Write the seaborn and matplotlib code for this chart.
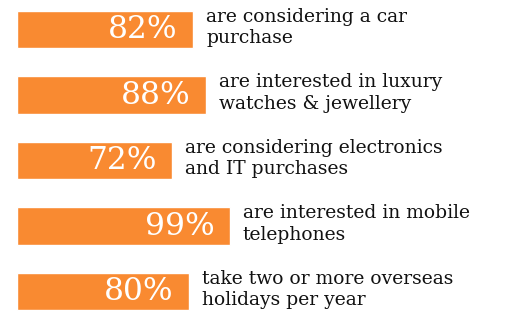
import matplotlib
matplotlib.use("Agg")
import matplotlib.pyplot as plt
import seaborn as sns
import pandas as pd

# chart data
labels = ["82%", "88%", "72%", "99%", "80%"]
values = [82, 88, 72, 99, 80]
descriptions = [
    "are considering a car\npurchase",
    "are interested in luxury\nwatches & jewellery",
    "are considering electronics\nand IT purchases",
    "are interested in mobile\ntelephones",
    "take two or more overseas\nholidays per year",
]

ORANGE = "#f98a31"

df = pd.DataFrame({"label": labels, "value": values, "desc": descriptions})

sns.set_theme(style="white")
plt.rcParams["font.family"] = ["DejaVu Serif", "DejaVu Sans"]

fig = plt.figure(figsize=(5.09, 3.14), dpi=100)
ax = fig.add_axes([0, 0, 1, 1])

sns.barplot(data=df, y="label", x="value", orient="h", color=ORANGE,
            saturation=1, width=0.57, ax=ax)

for i, row in df.iterrows():
    # white percentage inside bar end
    ax.annotate(row["label"], xy=(row["value"], i), xytext=(-11, 0),
                textcoords="offset points", ha="right", va="center",
                color="white", fontsize=22.5)
    # description to the right of the bar
    ax.annotate(row["desc"], xy=(row["value"], i), xytext=(9.5, 1.5),
                textcoords="offset points", ha="left", va="center",
                color="#111111", fontsize=13.5, linespacing=1.25)

ax.set_xlim(-7.9, 229)
ax.set_ylim(4.34, -0.45)
ax.axis("off")

fig.savefig("out.png", dpi=100)
